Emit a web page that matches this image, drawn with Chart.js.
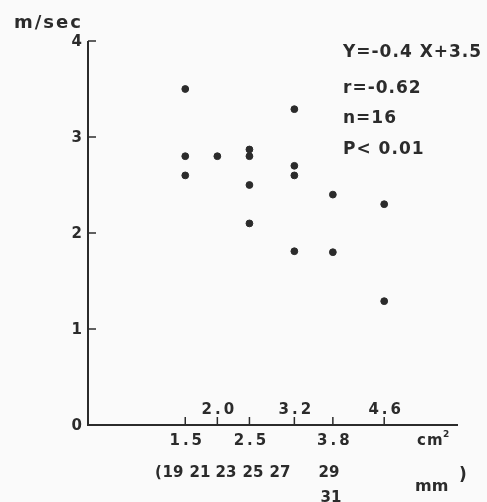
<!DOCTYPE html>
<html>
<head>
<meta charset="utf-8">
<script src="https://cdn.jsdelivr.net/npm/chart.js@4/dist/chart.umd.min.js"></script>
<style>
  html, body { margin: 0; padding: 0; background: #fafafa; }
  #wrap { position: relative; width: 487px; height: 502px; }
</style>
</head>
<body>
<div id="wrap"><canvas id="chart" width="487" height="502"></canvas></div>
<script>
// valve area (cm2) and flow velocity (m/sec), one entry per patient
const area = [1.5, 1.5, 1.5, 2.0, 2.5, 2.5, 2.5, 2.5, 3.2, 3.2, 3.2, 3.2, 3.8, 3.8, 4.6, 4.6];
const velocity = [3.5, 2.8, 2.6, 2.8, 2.87, 2.8, 2.5, 2.1, 3.29, 2.7, 2.6, 1.81, 2.4, 1.8, 2.3, 1.29];

const xTicksAbove = ['2.0', '3.2', '4.6'];
const xTicksBelow = ['1.5', '2.5', '3.8'];
const yTicks = [0, 1, 2, 3, 4];
const diameters = ['19', '21', '23', '25', '27'];
const statsLines = ['Y=-0.4 X+3.5', 'r=-0.62', 'n=16', 'P< 0.01'];

const ink = '#2b2b2b';
const face = '"DejaVu Sans", "Liberation Sans", sans-serif';

// draws axes, inward ticks and all the labels of the old paper figure
const axesPlugin = {
  id: 'paperAxes',
  afterDraw(chart) {
    const ctx = chart.ctx;
    const xs = chart.scales.x, ys = chart.scales.y;
    const x0 = xs.getPixelForValue(0) - 1;
    const y0 = ys.getPixelForValue(0);
    const yTop = ys.getPixelForValue(4);
    const xEnd = chart.chartArea.right;

    ctx.save();
    ctx.strokeStyle = ink;
    ctx.fillStyle = ink;
    ctx.lineWidth = 2;
    ctx.beginPath();
    ctx.moveTo(x0, yTop);
    ctx.lineTo(x0, y0);
    ctx.lineTo(xEnd, y0);
    ctx.stroke();

    // y ticks point into the plot
    ctx.lineWidth = 1.5;
    ctx.font = 'bold 15px ' + face;
    ctx.textAlign = 'right';
    ctx.textBaseline = 'middle';
    yTicks.forEach(v => {
      const py = ys.getPixelForValue(v);
      if (v > 0) {
        ctx.beginPath();
        ctx.moveTo(x0, py);
        ctx.lineTo(x0 + 8, py);
        ctx.stroke();
      }
      ctx.fillText(String(v), x0 - 6, py + 1);
    });

    // x ticks point up, labels alternate above / below
    ctx.textAlign = 'center';
    ctx.textBaseline = 'alphabetic';
    ctx.letterSpacing = '3px';
    const tickAt = (label) => {
      const px = xs.getPixelForValue(parseFloat(label));
      ctx.beginPath();
      ctx.moveTo(px, y0);
      ctx.lineTo(px, y0 - 8);
      ctx.stroke();
      return px;
    };
    xTicksAbove.forEach(t => {
      const px = tickAt(t);
      ctx.fillText(t, px + 2, y0 - 11);
    });
    xTicksBelow.forEach(t => {
      const px = tickAt(t);
      ctx.fillText(t, px + 2, y0 + 20);
    });

    // units
    ctx.textAlign = 'left';
    ctx.letterSpacing = '2px';
    ctx.font = 'bold 18px ' + face;
    ctx.fillText('m/sec', 14, 28);
    ctx.font = 'bold 15px ' + face;
    ctx.letterSpacing = '1px';
    ctx.fillText('cm', 417, y0 + 20);
    ctx.font = 'bold 9px ' + face;
    ctx.fillText('2', 443, y0 + 12);

    // diameter row
    ctx.font = 'bold 15px ' + face;
    ctx.letterSpacing = '0px';
    ctx.fillText('(', 155, 477);
    ctx.textAlign = 'center';
    const diamX = [173, 200, 226, 253, 280];
    diameters.forEach((d, i) => ctx.fillText(d, diamX[i], 477));
    ctx.fillText('29', 329, 477);
    ctx.fillText('31', 331, 502);
    ctx.textAlign = 'left';
    ctx.font = 'bold 16px ' + face;
    ctx.fillText('mm', 415, 491);
    ctx.font = 'bold 17px ' + face;
    ctx.fillText(')', 459, 480);

    // regression stats
    ctx.font = 'bold 17px ' + face;
    ctx.letterSpacing = '1px';
    const statsY = [57, 93, 123, 154];
    statsLines.forEach((s, i) => ctx.fillText(s, 343, statsY[i]));
    ctx.restore();
  }
};

new Chart(document.getElementById('chart'), {
  type: 'scatter',
  data: {
    datasets: [{
      data: area.map((a, i) => ({ x: a, y: velocity[i] })),
      backgroundColor: ink,
      borderColor: ink,
      pointRadius: 3.4,
      pointHoverRadius: 3.4
    }]
  },
  options: {
    responsive: false,
    animation: false,
    layout: { padding: { left: 89, right: 29, top: 41, bottom: 77 } },
    plugins: { legend: { display: false }, tooltip: { enabled: false } },
    scales: {
      x: { type: 'linear', min: 0, max: 5.75, display: false },
      y: { type: 'linear', min: 0, max: 4, display: false }
    }
  },
  plugins: [axesPlugin]
});
</script>
</body>
</html>
